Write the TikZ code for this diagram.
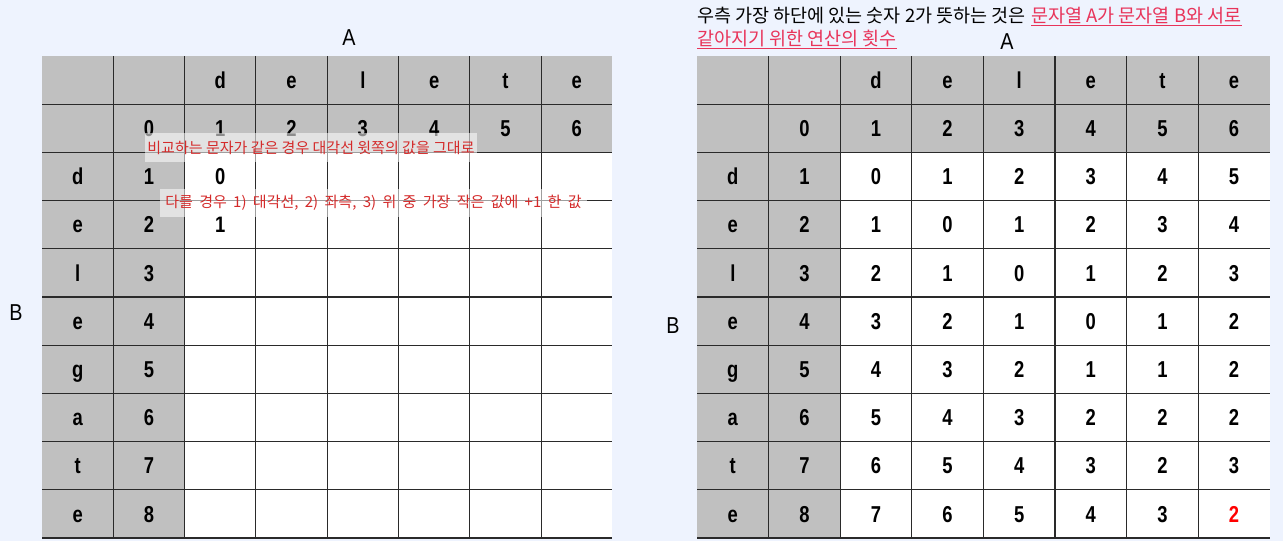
\documentclass[tikz,border=0pt]{standalone}
\usepackage{fontspec}
\setmainfont{Liberation Sans}
\newfontfamily\cellfont[FakeStretch=0.8]{Liberation Sans Bold}
\newfontfamily\labfont[FakeStretch=0.86]{Liberation Sans}
\newfontfamily\kfont{Noto Sans CJK KR}
\definecolor{bgblue}{HTML}{EEF3FE}
\definecolor{cellgray}{HTML}{C0C0C0}
\definecolor{gridline}{HTML}{2A2A2A}
\definecolor{notered}{HTML}{D42A2A}
\definecolor{linkred}{HTML}{E8345A}
\tikzset{
  cell/.style={font=\cellfont\fontsize{23}{23}\selectfont, text=black, inner sep=0pt,
    text height=16.5pt, text depth=0pt, anchor=center},
  redcell/.style={cell, text=red},
  axislab/.style={font=\labfont\fontsize{23}{23}\selectfont, text=black, inner sep=0pt, anchor=center},
  grid/.style={draw=gridline, line width=1.1pt},
  notebox/.style={fill=white, fill opacity=0.55, text opacity=1, text=notered, inner sep=0pt,
    font=\kfont\fontsize{15}{15}\selectfont, anchor=center},
  toptext/.style={font=\kfont\fontsize{18.5}{18.5}\selectfont, inner sep=0pt, anchor=base west},
  uline/.style={draw=linkred, line width=1.1pt}
}
\begin{document}
\begin{tikzpicture}[x=1pt,y=-1pt]
\fill[bgblue] (0,0) rectangle (1283,541);
\useasboundingbox (0,0) rectangle (1283,541);

% ---------- left table ----------
\def\LX{42}\def\LW{71.3}
\def\TY{56}\def\RH{48.2}
\fill[cellgray] (\LX,\TY) rectangle ({\LX+8*\LW},{\TY+2*\RH});
\fill[cellgray] (\LX,{\TY+2*\RH}) rectangle ({\LX+2*\LW},{\TY+10*\RH});
\fill[white] ({\LX+2*\LW},{\TY+2*\RH}) rectangle ({\LX+8*\LW},{\TY+10*\RH});
\foreach \i in {1,...,10}
  \draw[grid] (\LX,{\TY+\i*\RH}) -- ({\LX+8*\LW},{\TY+\i*\RH});
\foreach \j in {1,...,7}
  \draw[grid] ({\LX+\j*\LW},\TY) -- ({\LX+\j*\LW},{\TY+10*\RH});
\foreach \c [count=\j from 2] in {d,e,l,e,t,e}
  \node[cell] (L-0-\j) at ({\LX+(\j+0.5)*\LW},{\TY+0.5*\RH}) {\c};
\foreach \n [count=\j from 1] in {0,...,6}
  \node[cell] (L-1-\j) at ({\LX+(\j+0.5)*\LW},{\TY+1.5*\RH}) {\n};
\foreach \c [count=\i from 2] in {d,e,l,e,g,a,t,e}{
  \node[cell] (L-\i-0) at ({\LX+0.5*\LW},{\TY+(\i+0.5)*\RH}) {\c};
  \pgfmathtruncatemacro{\num}{\i-1}
  \node[cell] (L-\i-1) at ({\LX+1.5*\LW},{\TY+(\i+0.5)*\RH}) {\num};
}
\node[cell] (L-2-2) at ({\LX+2.5*\LW},{\TY+2.5*\RH}) {0};
\node[cell] (L-3-2) at ({\LX+2.5*\LW},{\TY+3.5*\RH}) {1};

\node[notebox, minimum width=332pt, minimum height=29pt] (note1) at (311,147.5)
  {비교하는 문자가 같은 경우 대각선 윗쪽의 값을 그대로};
\node[notebox, minimum width=427pt, minimum height=28pt] (note2) at (373.5,203)
  {\spaceskip=\dimexpr\fontdimen2\font+3pt\relax 다를 경우 1) 대각선, 2) 좌측, 3) 위 중 가장 작은 값에 +1 한 값};

\node[axislab] (LA) at (349,38) {A};
\node[axislab] (LB) at (16,313) {B};

% ---------- right table ----------
\def\RX{697}\def\RW{71.6}
\fill[cellgray] (\RX,\TY) rectangle ({\RX+8*\RW},{\TY+2*\RH});
\fill[cellgray] (\RX,{\TY+2*\RH}) rectangle ({\RX+2*\RW},{\TY+10*\RH});
\fill[white] ({\RX+2*\RW},{\TY+2*\RH}) rectangle ({\RX+8*\RW},{\TY+10*\RH});
\foreach \i in {1,...,10}
  \draw[grid] (\RX,{\TY+\i*\RH}) -- ({\RX+8*\RW},{\TY+\i*\RH});
\foreach \j in {1,...,7}
  \draw[grid] ({\RX+\j*\RW},\TY) -- ({\RX+\j*\RW},{\TY+10*\RH});
\foreach \c [count=\j from 2] in {d,e,l,e,t,e}
  \node[cell] (R-0-\j) at ({\RX+(\j+0.5)*\RW},{\TY+0.5*\RH}) {\c};
\foreach \n [count=\j from 1] in {0,...,6}
  \node[cell] (R-1-\j) at ({\RX+(\j+0.5)*\RW},{\TY+1.5*\RH}) {\n};
\foreach \c [count=\i from 2] in {d,e,l,e,g,a,t,e}{
  \node[cell] (R-\i-0) at ({\RX+0.5*\RW},{\TY+(\i+0.5)*\RH}) {\c};
  \pgfmathtruncatemacro{\num}{\i-1}
  \node[cell] (R-\i-1) at ({\RX+1.5*\RW},{\TY+(\i+0.5)*\RH}) {\num};
}
\foreach \vals [count=\i from 2] in {{0,1,2,3,4,5},{1,0,1,2,3,4},{2,1,0,1,2,3},{3,2,1,0,1,2},{4,3,2,1,1,2},{5,4,3,2,2,2},{6,5,4,3,2,3},{7,6,5,4,3}}{
  \foreach \v [count=\j from 2] in \vals
    \node[cell] (R-\i-\j) at ({\RX+(\j+0.5)*\RW},{\TY+(\i+0.5)*\RH}) {\v};
}
\node[redcell] (R-9-7) at ({\RX+7.5*\RW},{\TY+9.5*\RH}) {2};

\node[axislab] (RA) at (1007,42) {A};
\node[axislab] (RB) at (673,326) {B};

\node[toptext] (top1) at (697,22) {우측 가장 하단에 있는 숫자 2가 뜻하는 것은};
\node[toptext, text=linkred, xshift=5pt] (top1r) at (top1.base east) {문자열 A가 문자열 B와 서로};
\node[toptext, text=linkred] (top2) at (697,45) {같아지기 위한 연산의 횟수};
\draw[uline] ([yshift=-3.5pt]top1r.base west) -- ([yshift=-3.5pt]top1r.base east);
\draw[uline] ([yshift=-3.5pt]top2.base west) -- ([yshift=-3.5pt]top2.base east);
\end{tikzpicture}
\end{document}
